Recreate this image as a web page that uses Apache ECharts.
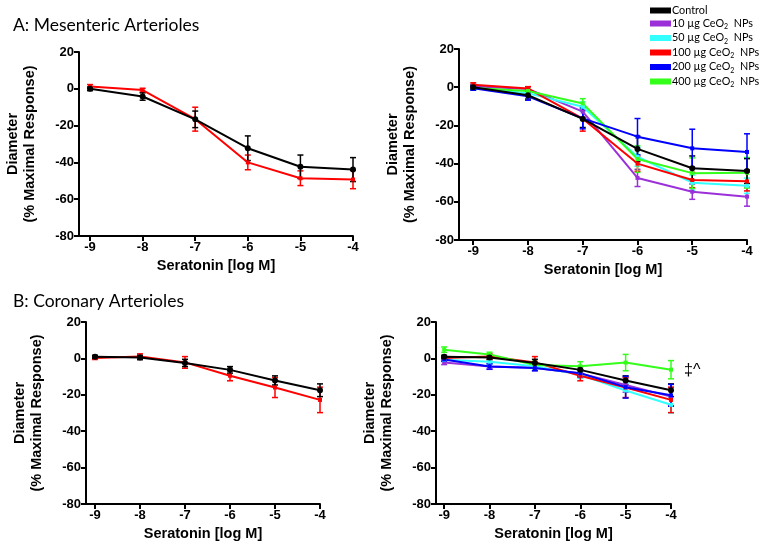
<!DOCTYPE html>
<html>
<head>
<meta charset="utf-8">
<script src="https://cdn.jsdelivr.net/npm/echarts@6/dist/echarts.min.js"></script>
<style>
html,body{margin:0;padding:0;background:#fff;}
#c{width:764px;height:549px;}
</style>
</head>
<body>
<div id="c"></div>
<script>
// ---- data ----
const doses = [-9, -8, -7, -6, -5, -4];
const xTickLabels = ['-9', '-8', '-7', '-6', '-5', '-4'];
const yTicks = [20, 0, -20, -40, -60, -80];

const seriesNames = ['Control', '10 µg CeO2 NPs', '50 µg CeO2 NPs', '100 µg CeO2 NPs', '200 µg CeO2 NPs', '400 µg CeO2 NPs'];
const seriesColors = ['#000000', '#9b30d9', '#33ffff', '#ff0000', '#0000ff', '#33ff1a'];

// Mesenteric arterioles (mean, SEM)
const mesControl = [0, -4.2, -16.6, -32.3, -42.4, -43.9];
const mesControlErr = [1, 2, 4.5, 6.7, 6.4, 6.5];
const mes10 = [0.5, -0.9, -12.8, -47.5, -54.7, -57.3];
const mes10Err = [1, 1, 3, 4.5, 4, 5];
const mes50 = [-0.3, -3.2, -10.2, -36.4, -50, -51.6];
const mes50Err = [1, 1.5, 2.5, 5, 4, 4];
const mes100 = [1.3, -0.7, -16.5, -40, -48.6, -49.3];
const mes100Err = [1, 1, 6.5, 4, 4, 5];
const mes200 = [-0.6, -4.8, -16.3, -25.9, -32, -33.9];
const mes200Err = [1, 2, 5.5, 9.5, 10, 9.5];
const mes400 = [-0.4, -2, -8.5, -37.6, -45, -44.8];
const mes400Err = [1, 1, 2.5, 7, 8, 8];

// Coronary arterioles (mean, SEM)
const corControl = [0.9, 0.5, -2.5, -6.3, -12.1, -17.5];
const corControlErr = [0.8, 1.2, 2, 1.8, 2.5, 3.5];
const cor10 = [-2.2, -4.5, -5.2, -8.3, -14.6, -21];
const cor10Err = [1.2, 1.5, 1.5, 2, 4, 5];
const cor50 = [-0.8, -1.8, -4.3, -9, -17.6, -25.5];
const cor50Err = [1, 1.5, 1.5, 2, 4, 4.5];
const cor100 = [0.2, 1, -2.2, -9.5, -16, -22.8];
const cor100Err = [0.8, 1.5, 3.2, 2.8, 5.5, 7];
const cor200 = [-0.6, -4.4, -5.3, -8.1, -15.8, -20.3];
const cor200Err = [1, 1.5, 1.5, 2, 6, 6];
const cor400 = [4.8, 2.2, -3.6, -4.3, -2.3, -6.2];
const cor400Err = [1.5, 1.2, 2, 2.5, 4.5, 5];

// ---- chart ----
const chart = echarts.init(document.getElementById('c'), null, {renderer: 'canvas'});
const boldFont = '"Liberation Sans", Arial, sans-serif';
const lightFont = 'Lato, "Open Sans", sans-serif';

const grids = [
  {left: 79, top: 52, width: 274, height: 184},
  {left: 459, top: 49, width: 288, height: 191},
  {left: 86, top: 322, width: 234, height: 182},
  {left: 436, top: 322, width: 235, height: 182}
];
const xMins = [-9.21, -9.26, -9.2, -9.18];

const xAxes = grids.map((g, i) => ({
  type: 'value', gridIndex: i, min: xMins[i], max: -4,
  name: 'Seratonin [log M]', nameLocation: 'middle', nameGap: 22,
  nameTextStyle: {fontFamily: boldFont, fontWeight: 'bold', fontSize: 14.5, color: '#000'},
  axisLine: {show: true, onZero: false, lineStyle: {color: '#000', width: 2}},
  axisTick: {show: true, length: 5, lineStyle: {color: '#000', width: 2}, customValues: doses},
  axisLabel: {customValues: doses, formatter: v => xTickLabels[doses.indexOf(v)] ?? '', fontFamily: boldFont, fontWeight: 'bold', fontSize: 13, color: '#000', margin: 5},
  splitLine: {show: false}
}));
const yAxes = grids.map((g, i) => ({
  type: 'value', gridIndex: i, min: -80, max: 20, interval: 20,
  name: 'Diameter\n(% Maximal Response)', nameLocation: 'middle', nameGap: 41, nameRotate: 90,
  nameTextStyle: {fontFamily: boldFont, fontWeight: 'bold', fontSize: 14.5, color: '#000', lineHeight: 17},
  axisLine: {show: true, lineStyle: {color: '#000', width: 2}},
  axisTick: {show: true, length: 5, lineStyle: {color: '#000', width: 2}},
  axisLabel: {fontFamily: boldFont, fontWeight: 'bold', fontSize: 13, color: '#000', margin: 5},
  splitLine: {show: false}
}));

function lineSeries(idx, name, vals, color, isCtrl) {
  return {
    type: 'line', name: name, xAxisIndex: idx, yAxisIndex: idx,
    data: doses.map((x, i) => [x, vals[i]]),
    symbol: isCtrl ? 'circle' : 'rect', symbolSize: isCtrl ? 6 : 4, showSymbol: true,
    lineStyle: {color: color, width: 2}, itemStyle: {color: color},
    z: isCtrl ? 4 : 3, animation: false, silent: true
  };
}
function errSeries(idx, name, vals, errs, color) {
  return {
    type: 'custom', name: name, xAxisIndex: idx, yAxisIndex: idx,
    data: doses.map((x, i) => [x, vals[i] - errs[i], vals[i] + errs[i]]),
    encode: {x: 0, y: [1, 2]},
    renderItem: function (params, api) {
      const x = api.value(0);
      const lo = api.coord([x, api.value(1)]);
      const hi = api.coord([x, api.value(2)]);
      const w = 3;
      const st = {stroke: color, lineWidth: 1.5, fill: null};
      return {type: 'group', children: [
        {type: 'line', shape: {x1: lo[0], y1: lo[1], x2: hi[0], y2: hi[1]}, style: st},
        {type: 'line', shape: {x1: lo[0] - w, y1: lo[1], x2: lo[0] + w, y2: lo[1]}, style: st},
        {type: 'line', shape: {x1: hi[0] - w, y1: hi[1], x2: hi[0] + w, y2: hi[1]}, style: st}
      ]};
    },
    z: 2, animation: false, silent: true
  };
}

const series = [];
function addPanel(idx, sets) {
  sets.forEach(s => {
    series.push(errSeries(idx, seriesNames[s[0]], s[1], s[2], seriesColors[s[0]]));
    series.push(lineSeries(idx, seriesNames[s[0]], s[1], seriesColors[s[0]], s[0] === 0));
  });
}
addPanel(0, [[3, mes100, mes100Err], [0, mesControl, mesControlErr]]);
addPanel(1, [[1, mes10, mes10Err], [2, mes50, mes50Err], [3, mes100, mes100Err], [5, mes400, mes400Err], [0, mesControl, mesControlErr], [4, mes200, mes200Err]]);
addPanel(2, [[3, cor100, cor100Err], [0, corControl, corControlErr]]);
addPanel(3, [[1, cor10, cor10Err], [2, cor50, cor50Err], [3, cor100, cor100Err], [5, cor400, cor400Err], [0, corControl, corControlErr], [4, cor200, cor200Err]]);

const option = {
  backgroundColor: '#fff',
  animation: false,
  title: [
    {text: 'A: Mesenteric Arterioles', left: 8, top: 11, textStyle: {fontFamily: lightFont, fontWeight: 'normal', fontSize: 17.5, color: '#000'}},
    {text: 'B: Coronary Arterioles', left: 8, top: 287, textStyle: {fontFamily: lightFont, fontWeight: 'normal', fontSize: 17.5, color: '#000'}}
  ],
  legend: {
    orient: 'vertical', left: 645, top: 0,
    itemWidth: 21, itemHeight: 6, itemGap: 2,
    data: seriesNames.map((n, i) => ({name: n, icon: 'rect', itemStyle: {color: seriesColors[i]}})),
    formatter: function (name) {
      const m = name.match(/^(.*CeO)2( NPs)$/);
      if (m) return '{n|' + m[1] + '}{s|2}{n| ' + m[2] + '}';
      return '{n|' + name + '}';
    },
    textStyle: {
      padding: [0, 0, 0, -4],
      rich: {
        n: {fontFamily: lightFont, fontSize: 10.8, color: '#000', lineHeight: 14},
        s: {fontFamily: lightFont, fontSize: 7, color: '#000', lineHeight: 14, verticalAlign: 'bottom', padding: [5, 0, 0, 0]}
      }
    },
    selectedMode: false
  },
  grid: grids,
  xAxis: xAxes,
  yAxis: yAxes,
  series: series,
  graphic: [
    {type: 'text', left: 684, top: 363, style: {text: '‡^', fontFamily: '"Liberation Sans", Arial, sans-serif', fontSize: 16, fill: '#000'}}
  ]
};
chart.setOption(option);
</script>
</body>
</html>
